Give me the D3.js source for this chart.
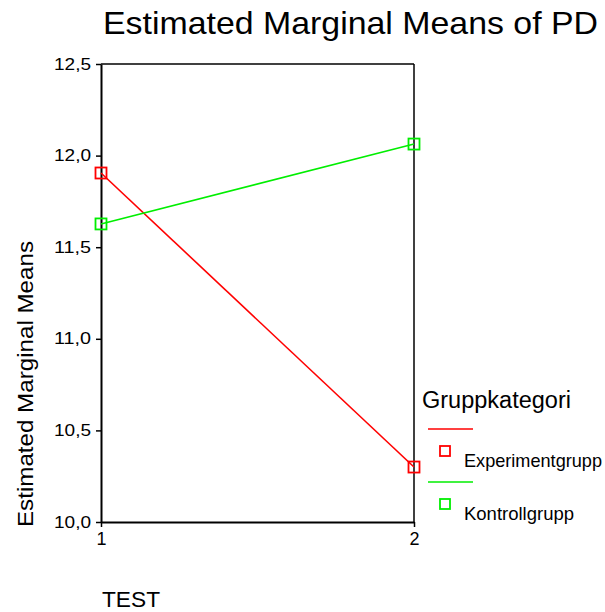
<!DOCTYPE html>
<html><head><meta charset="utf-8">
<script src="https://cdn.jsdelivr.net/npm/d3@7"></script>
<style>body{margin:0;background:#fff}svg{display:block;font-family:"Liberation Sans",Arial,sans-serif}</style>
</head><body><div id="chart"></div>
<script>
const tests = ["1", "2"];
const groups = ["Experimentgrupp", "Kontrollgrupp"];
const experimentValues = [11.905, 10.30];
const kontrollValues = [11.627, 12.063];
const colors = ["#ff0000", "#00ee00"];
const yTicks = [10.0, 10.5, 11.0, 11.5, 12.0, 12.5];

(function () {
const W = 605, H = 612;
const svg = d3.select("#chart").append("svg").attr("width", W).attr("height", H);
const pLeft = 101, pRight = 414, pTop = 64, pBottom = 522;
const x = d3.scalePoint().domain(tests).range([pLeft, pRight]);
const y = d3.scaleLinear().domain([10, 12.5]).range([pBottom, pTop]);

svg.append("line").attr("x1", pLeft).attr("x2", pRight).attr("y1", pTop).attr("y2", pTop).attr("stroke", "#000").attr("stroke-width", 1.5);
svg.append("line").attr("x1", pRight).attr("x2", pRight).attr("y1", pTop).attr("y2", pBottom).attr("stroke", "#000").attr("stroke-width", 1.5);

const fmt = d => d3.format(".1f")(d).replace(".", ",");
const yAxis = svg.append("g").attr("transform", `translate(${pLeft},0)`)
  .call(d3.axisLeft(y).tickValues(yTicks).tickFormat(fmt).tickSize(5).tickPadding(5).tickSizeOuter(0));
yAxis.select(".domain").attr("stroke-width", 2);
yAxis.selectAll(".tick line").attr("stroke-width", 1.5);
yAxis.selectAll("text").attr("font-size", 16).attr("fill", "#000")
  .attr("textLength", 37).attr("lengthAdjust", "spacingAndGlyphs")
  .attr("font-family", "Liberation Sans, Arial, sans-serif");

const xAxis = svg.append("g").attr("transform", `translate(0,${pBottom})`)
  .call(d3.axisBottom(x).tickSize(5).tickPadding(5).tickSizeOuter(0));
xAxis.select(".domain").attr("stroke-width", 2);
xAxis.selectAll(".tick line").attr("stroke-width", 1.5);
xAxis.selectAll("text").attr("font-size", 18).attr("fill", "#000").attr("font-family", "Liberation Sans, Arial, sans-serif");

const series = [experimentValues, kontrollValues];
series.forEach((vals, i) => {
  const pts = tests.map((t, j) => [x(t), y(vals[j])]);
  svg.append("path").attr("d", d3.line()(pts)).attr("fill", "none").attr("stroke", colors[i]).attr("stroke-width", 1.6);
  svg.selectAll(null).data(pts).enter().append("rect")
    .attr("x", d => d[0] - 5.5).attr("y", d => d[1] - 5.5).attr("width", 11).attr("height", 11)
    .attr("fill", "none").attr("stroke", colors[i]).attr("stroke-width", 1.8);
});

svg.append("text").attr("x", 103).attr("y", 34).attr("font-size", 32)
  .attr("textLength", 495).attr("lengthAdjust", "spacingAndGlyphs").text("Estimated Marginal Means of PD");
svg.append("text").attr("transform", "translate(33,527) rotate(-90)").attr("font-size", 22)
  .attr("textLength", 286).attr("lengthAdjust", "spacingAndGlyphs").text("Estimated Marginal Means");
svg.append("text").attr("x", 102).attr("y", 607).attr("font-size", 22)
  .attr("textLength", 58).attr("lengthAdjust", "spacingAndGlyphs").text("TEST");

svg.append("text").attr("x", 422).attr("y", 408).attr("font-size", 23)
  .attr("textLength", 149).attr("lengthAdjust", "spacingAndGlyphs").text("Gruppkategori");
const labelLen = [138, 110];
groups.forEach((g, i) => {
  const base = 429 + i * 53;
  svg.append("line").attr("x1", 428).attr("x2", 473).attr("y1", base).attr("y2", base).attr("stroke", colors[i]).attr("stroke-width", 1.6);
  svg.append("rect").attr("x", 440).attr("y", base + 17).attr("width", 10).attr("height", 10).attr("fill", "none").attr("stroke", colors[i]).attr("stroke-width", 1.8);
  svg.append("text").attr("x", 464).attr("y", base + 38).attr("font-size", 18.5)
    .attr("textLength", labelLen[i]).attr("lengthAdjust", "spacingAndGlyphs").text(g);
});
})();
</script></body></html>
